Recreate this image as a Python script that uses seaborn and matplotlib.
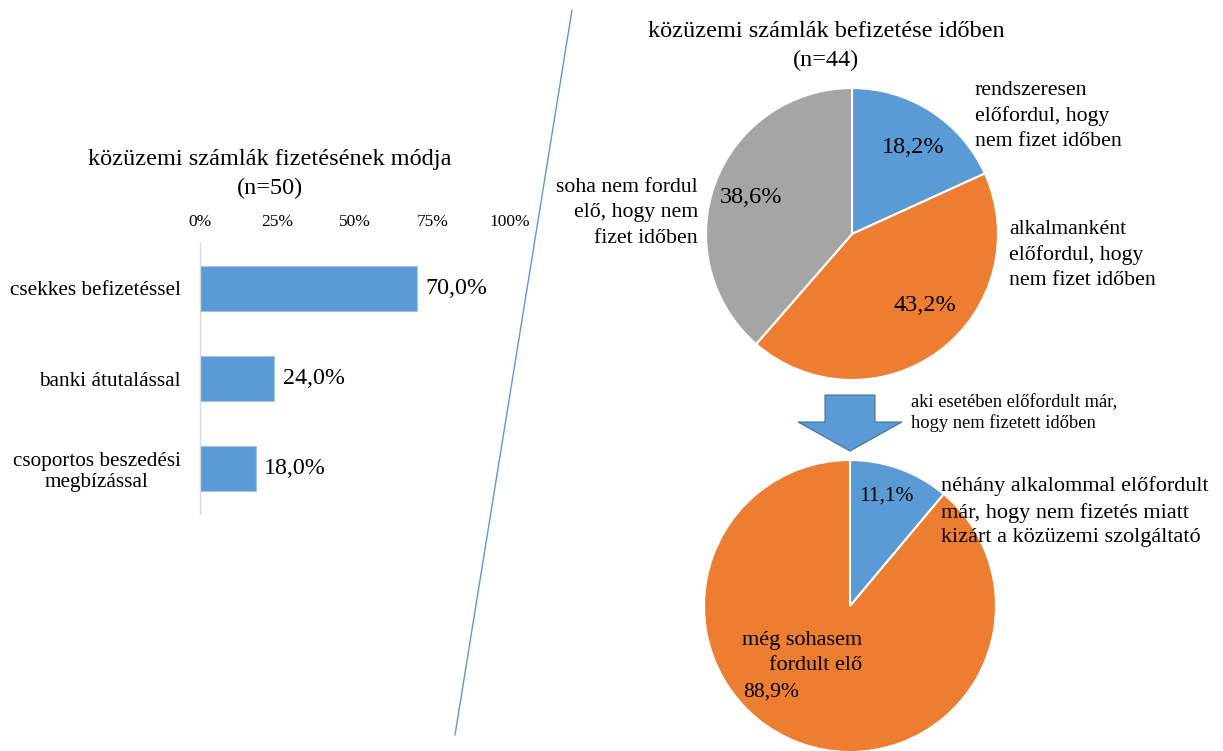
import numpy as np
import pandas as pd
import seaborn as sns
import matplotlib.pyplot as plt
from matplotlib.lines import Line2D
from matplotlib.patches import Polygon

# data
bar_categories = ["csekkes befizetéssel", "banki átutalással", "csoportos beszedési\nmegbízással"]
bar_values = [70.0, 24.0, 18.0]
bar_ticks = [0, 25, 50, 75, 100]
bar_title = "közüzemi számlák fizetésének módja\n(n=50)"

top_labels = ["rendszeresen\nelőfordul, hogy\nnem fizet időben",
              "alkalmanként\nelőfordul, hogy\nnem fizet időben",
              "soha nem fordul\nelő, hogy nem\nfizet időben"]
top_values = [18.2, 43.2, 38.6]
top_title = "közüzemi számlák befizetése időben\n(n=44)"

bottom_labels = ["néhány alkalommal előfordult\nmár, hogy nem fizetés miatt\nkizárt a közüzemi szolgáltató",
                 "még sohasem\nfordult elő"]
bottom_values = [11.1, 88.9]
arrow_text = "aki esetében előfordult már,\nhogy nem fizetett időben"

BLUE = "#5b9bd5"
ORANGE = "#ed7d31"
GRAY = "#a5a5a5"

sns.set_theme(style="white")
plt.rcParams["font.family"] = ["Liberation Serif", "DejaVu Serif"]
plt.rcParams["text.color"] = "black"
plt.rcParams["xtick.color"] = "black"
plt.rcParams["ytick.color"] = "black"

W, H = 1223, 751
fig = plt.figure(figsize=(W / 100, H / 100), dpi=100)


def px(x, y):
    # pixel position -> figure fraction
    return x / W, 1 - y / H


def fmt(v):
    return f"{v:.1f}%".replace(".", ",")


# --- left: bar chart ---
ax = fig.add_axes([200 / W, 1 - 514 / H, 310 / W, 271 / H])
df = pd.DataFrame({"cat": bar_categories, "val": bar_values})
sns.barplot(data=df, x="val", y="cat", orient="h", color=BLUE, saturation=1,
            width=0.5, ax=ax, edgecolor="#9dc3e6", linewidth=0.8)
ax.set_xlim(0, 100)
ax.set_xticks(bar_ticks)
ax.set_xticklabels([f"{t}%" for t in bar_ticks])
ax.xaxis.tick_top()
ax.tick_params(axis="x", length=0, pad=9, labelsize=12.5, labelcolor="black")
ax.tick_params(axis="y", length=0, pad=14, labelsize=15.3, labelcolor="black")
for lab in ax.get_yticklabels():
    lab.set_multialignment("center")
    lab.set_linespacing(1.15)
ax.set_xlabel("")
ax.set_ylabel("")
for s in ["top", "right", "bottom"]:
    ax.spines[s].set_visible(False)
ax.spines["left"].set_color("#d9d9d9")
ax.spines["left"].set_linewidth(1)
ax.bar_label(ax.containers[0], labels=[fmt(v) for v in bar_values],
             padding=6, fontsize=17.3)
fig.text(*px(270, 174), bar_title, ha="center", va="center", fontsize=17.5,
         linespacing=1.45)

# --- separator line ---
fig.add_artist(Line2D([572 / W, 455 / W], [1 - 10 / H, 1 - 735 / H],
                      transform=fig.transFigure, color=BLUE, lw=1))

# --- top pie ---
r = 146
axp = fig.add_axes([(852 - r) / W, 1 - (234 + r) / H, 2 * r / W, 2 * r / H])
wedges, _, autotexts = axp.pie(top_values, colors=[BLUE, ORANGE, GRAY],
                               startangle=90, counterclock=False, autopct=fmt,
                               wedgeprops=dict(edgecolor="white", linewidth=1.5),
                               textprops=dict(fontsize=17.5))
axp.set_xlim(-1, 1)
axp.set_ylim(-1, 1)
axp.set_aspect("equal")
for t, pos in zip(autotexts, [(0.42, 0.59), (0.50, -0.49), (-0.69, 0.25)]):
    t.set_position(pos)
fig.text(*px(826, 46), top_title, ha="center", va="center", fontsize=17.5,
         linespacing=1.45)
fig.text(*px(975, 116), top_labels[0], ha="left", va="center", fontsize=15.7,
         linespacing=1.45)
fig.text(*px(1009, 255), top_labels[1], ha="left", va="center", fontsize=15.7,
         linespacing=1.45)
fig.text(*px(698, 213), top_labels[2], ha="right", va="center", fontsize=15.7,
         linespacing=1.45, multialignment="right")

# --- arrow ---
arrow_pts = [(825, 395), (875, 395), (875, 422), (902, 422), (850, 451),
             (798, 422), (825, 422)]
fig.add_artist(Polygon([px(x, y) for x, y in arrow_pts], closed=True,
                       transform=fig.transFigure, facecolor=BLUE,
                       edgecolor="#41719c", lw=0.8))
fig.text(*px(911, 413), arrow_text, ha="left", va="center", fontsize=13.3,
         linespacing=1.27)

# --- bottom pie ---
axb = fig.add_axes([(850 - r) / W, 1 - (606 + r) / H, 2 * r / W, 2 * r / H])
wedges2, _, autotexts2 = axb.pie(bottom_values, colors=[BLUE, ORANGE],
                                 startangle=90, counterclock=False, autopct=fmt,
                                 wedgeprops=dict(edgecolor="white", linewidth=1.5),
                                 textprops=dict(fontsize=15.5))
axb.set_xlim(-1, 1)
axb.set_ylim(-1, 1)
axb.set_aspect("equal")
for t, pos in zip(autotexts2, [(0.25, 0.75), (-0.54, -0.59)]):
    t.set_position(pos)
axb.text(0.08, -0.32, bottom_labels[1], ha="right", va="center", fontsize=16,
         linespacing=1.42, multialignment="right")
fig.text(*px(941, 512), bottom_labels[0], ha="left", va="center", fontsize=16,
         linespacing=1.42)

fig.savefig("out.png", dpi=100)
